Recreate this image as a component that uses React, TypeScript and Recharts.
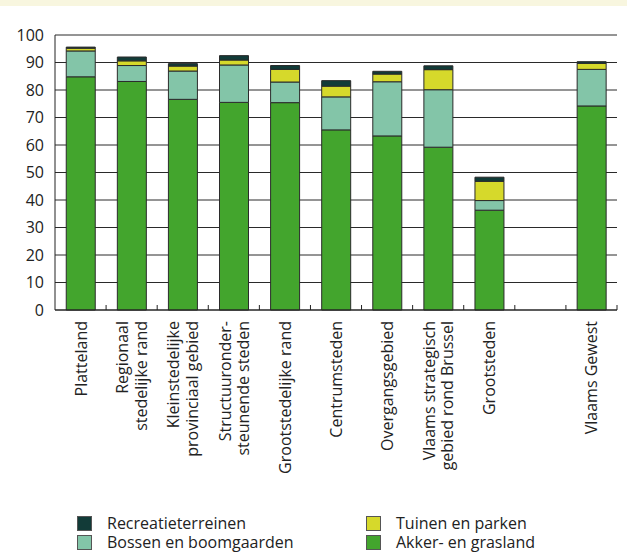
import { BarChart, Bar, XAxis, YAxis, CartesianGrid } from 'recharts';

// land use per area type (%)
const categories = [
  'Platteland',
  'Regionaal stedelijke rand',
  'Kleinstedelijke provinciaal gebied',
  'Structuurondersteunende steden',
  'Grootstedelijke rand',
  'Centrumsteden',
  'Overgangsgebied',
  'Vlaams strategisch gebied rond Brussel',
  'Grootsteden',
  '',
  'Vlaams Gewest',
];
const labelLines = [
  ['Platteland'],
  ['Regionaal', 'stedelijke rand'],
  ['Kleinstedelijke', 'provinciaal gebied'],
  ['Structuuronder-', 'steunende steden'],
  ['Grootstedelijke rand'],
  ['Centrumsteden'],
  ['Overgangsgebied'],
  ['Vlaams strategisch', 'gebied rond Brussel'],
  ['Grootsteden'],
  [],
  ['Vlaams Gewest'],
];
const akker = [84.8, 83.1, 76.6, 75.5, 75.4, 65.5, 63.3, 59.2, 36.3, null, 74.2];
const bossen = [9.4, 5.8, 10.3, 13.6, 7.5, 12.0, 19.7, 20.9, 3.5, null, 13.3];
const tuinen = [1.0, 1.7, 1.8, 1.8, 4.6, 3.9, 2.8, 7.3, 7.0, null, 2.2];
const recreatie = [0.4, 1.4, 0.9, 1.6, 1.4, 2.0, 1.0, 1.4, 1.5, null, 0.6];
const yTicks = [0, 10, 20, 30, 40, 50, 60, 70, 80, 90, 100];

const data = categories.map((name, i) => ({
  name,
  idx: i,
  akker: akker[i],
  bossen: bossen[i],
  tuinen: tuinen[i],
  recreatie: recreatie[i],
}));

const FONT = '"Open Sans", sans-serif';
const INK = '#222';
const SLOT = 562 / 11;

const CategoryTick = (props: any) => {
  const { x, y, payload } = props;
  const lines = labelLines[payload.index] || [];
  const n = lines.length;
  const edge = x + SLOT / 2;
  return (
    <g>
      <line x1={edge} y1={y} x2={edge} y2={y - 5} stroke={INK} strokeWidth={1} />
      {lines.map((line, i) => {
        const lx = x + (i - (n - 1) / 2) * 18.5;
        const ly = y + 11;
        return (
          <text
            key={i}
            x={lx}
            y={ly}
            transform={`rotate(-90, ${lx}, ${ly})`}
            textAnchor="end"
            dominantBaseline="central"
            fontSize={16}
            fontFamily={FONT}
            fill={INK}
          >
            {line}
          </text>
        );
      })}
    </g>
  );
};

const legendItems = [
  { label: 'Recreatieterreinen', color: '#123b38', left: 77, top: 515 },
  { label: 'Tuinen en parken', color: '#d6d92b', left: 366, top: 515 },
  { label: 'Bossen en boomgaarden', color: '#83c5a8', left: 77, top: 534 },
  { label: 'Akker- en grasland', color: '#43a52d', left: 366, top: 534 },
];

const App = () => {
  return (
    <div style={{ position: 'absolute', left: 0, top: 0, width: 627, height: 552, background: '#fff', fontFamily: FONT }}>
      <div style={{ position: 'absolute', left: 0, top: 0, width: 627, height: 6, background: '#f8f6df' }} />
      <BarChart
        width={627}
        height={552}
        data={data}
        margin={{ top: 35, right: 10, bottom: 0, left: 10 }}
        barCategoryGap="22%"
      >
        <CartesianGrid vertical={false} stroke="#2a2a2a" strokeWidth={1} />
        <XAxis
          dataKey="name"
          height={242}
          interval={0}
          tickSize={0}
          tickMargin={0}
          axisLine={{ stroke: INK }}
          tickLine={false}
          tick={<CategoryTick />}
        />
        <YAxis
          width={45}
          domain={[0, 100]}
          ticks={yTicks}
          interval={0}
          tickSize={0}
          tickMargin={11}
          tickLine={false}
          axisLine={{ stroke: INK }}
          tick={{ fontSize: 16, fill: INK, fontFamily: FONT }}
        />
        <Bar dataKey="akker" stackId="a" fill="#43a52d" stroke="#2b2b2b" strokeWidth={1} isAnimationActive={false} />
        <Bar dataKey="bossen" stackId="a" fill="#83c5a8" stroke="#2b2b2b" strokeWidth={1} isAnimationActive={false} />
        <Bar dataKey="tuinen" stackId="a" fill="#d6d92b" stroke="#2b2b2b" strokeWidth={1} isAnimationActive={false} />
        <Bar dataKey="recreatie" stackId="a" fill="#123b38" stroke="#2b2b2b" strokeWidth={1} isAnimationActive={false} />
      </BarChart>
      {legendItems.map((it) => (
        <div key={it.label} style={{ position: 'absolute', left: it.left, top: it.top, height: 17, display: 'flex', alignItems: 'center' }}>
          <div style={{ width: 13, height: 13, background: it.color, border: '1px solid #555', boxSizing: 'content-box' }} />
          <div style={{ marginLeft: 15, fontSize: 16, color: INK, lineHeight: '17px', height: 17, whiteSpace: 'nowrap' }}>{it.label}</div>
        </div>
      ))}
    </div>
  );
};

export default App;
